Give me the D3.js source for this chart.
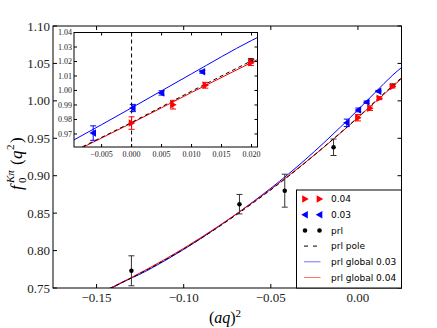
<!DOCTYPE html>
<html>
<head>
<meta charset="utf-8">
<script src="https://cdn.jsdelivr.net/npm/d3@7"></script>
<style>
  body { margin: 0; background: #fff; }
  svg { display: block; }
  .tick-main { font-family: "Liberation Serif", "DejaVu Serif", serif; font-size: 13px; fill: #222; }
  .tick-inset { font-family: "Liberation Serif", "DejaVu Serif", serif; font-size: 8px; fill: #222; }
  .legend text { font-family: "DejaVu Sans", sans-serif; font-size: 9px; fill: #000; }
</style>
</head>
<body>
<svg id="chart" width="437" height="328"></svg>
<script>
// values

// ensemble 0.04 (red, right triangles): x, y, error
const pts04X = [0.000, 0.0069, 0.0123, 0.0199];
const pts04Y = [0.9775, 0.9902, 1.0036, 1.0192];
const pts04E = [0.0043, 0.0030, 0.0020, 0.0020];

// ensemble 0.03 (blue, left triangles)
const pts03X = [-0.0064, 0.0002, 0.0050, 0.0118];
const pts03Y = [0.9706, 0.9879, 0.9983, 1.0129];
const pts03E = [0.0050, 0.0025, 0.0015, 0.0010];

// prl (black dots)
const prlX = [-0.130, -0.068, -0.042, -0.014, 0.0199];
const prlY = [0.773, 0.862, 0.880, 0.938, 1.0205];
const prlE = [0.020, 0.013, 0.022, 0.011, 0.0015];

// fitted curves, sampled by eye
const curveX = [-0.15, -0.14, -0.12, -0.10, -0.08, -0.06, -0.04, -0.02, -0.01, 0.0, 0.01, 0.02, 0.025];
const poleY = [0.741, 0.752, 0.7755, 0.802, 0.8315, 0.864, 0.899, 0.9375, 0.9575, 0.978, 0.9995, 1.0205, 1.031];
const global03Y = [0.737, 0.7515, 0.7745, 0.8015, 0.832, 0.8655, 0.902, 0.943, 0.965, 0.988, 1.0115, 1.0345, 1.0445];
const global04Y = [0.7413, 0.7523, 0.7764, 0.803, 0.8327, 0.8648, 0.8997, 0.9372, 0.957, 0.9775, 0.9986, 1.0193, 1.0296];

// axes ticks
const mainXTicks = [-0.15, -0.10, -0.05, 0.00];
const mainYTicks = [0.75, 0.80, 0.85, 0.90, 0.95, 1.00, 1.05, 1.10];
const insetXTicks = [-0.005, 0.000, 0.005, 0.010, 0.015, 0.020];
const insetYTicks = [0.97, 0.98, 0.99, 1.00, 1.01, 1.02, 1.03, 1.04];

const legendLabels = ["0.04", "0.03", "prl", "prl pole", "prl global 0.03", "prl global 0.04"];

const RED = "#ff0000", BLUE = "#0000ff";

const svg = d3.select("#chart");

const zip = (xs, ys, es) => xs.map((x, i) => ({ x: x, y: ys[i], e: es ? es[i] : 0 }));
const minus = s => s.replace("-", "\u2212");

function drawPanel(opts) {
    const { left, right, top, bottom, xDomain, yDomain, xTicks, yTicks, xFmt, yFmt, cls, tickLen, id, msize } = opts;
    const x = d3.scaleLinear().domain(xDomain).range([left, right]);
    const y = d3.scaleLinear().domain(yDomain).range([bottom, top]);

    const g = svg.append("g");
    g.append("rect")
        .attr("x", left).attr("y", top)
        .attr("width", right - left).attr("height", bottom - top)
        .attr("fill", "#fff");

    svg.append("clipPath").attr("id", id)
        .append("rect")
        .attr("x", left).attr("y", top)
        .attr("width", right - left).attr("height", bottom - top);

    const plot = g.append("g").attr("clip-path", `url(#${id})`);

    if (opts.zeroLine) {
        plot.append("line")
            .attr("x1", x(0)).attr("x2", x(0))
            .attr("y1", top).attr("y2", bottom)
            .attr("stroke", "#000").attr("stroke-width", 1)
            .attr("stroke-dasharray", "4,3");
    }

    const line = d3.line().x(d => x(d.x)).y(d => y(d.y)).curve(d3.curveMonotoneX);
    plot.append("path").datum(zip(curveX, global03Y))
        .attr("d", line).attr("fill", "none").attr("stroke", BLUE).attr("stroke-width", 1);
    plot.append("path").datum(zip(curveX, global04Y))
        .attr("d", line).attr("fill", "none").attr("stroke", RED).attr("stroke-width", 1);
    plot.append("path").datum(zip(curveX, poleY))
        .attr("d", line).attr("fill", "none").attr("stroke", "#000").attr("stroke-width", 1)
        .attr("stroke-dasharray", "4,3");

    const series = [
        { data: zip(prlX, prlY, prlE), color: "#000", shape: "dot" },
        { data: zip(pts03X, pts03Y, pts03E), color: BLUE, shape: "left" },
        { data: zip(pts04X, pts04Y, pts04E), color: RED, shape: "right" }
    ];
    series.forEach(s => {
        const sg = plot.append("g");
        const eColor = s.shape === "dot" ? "#333" : s.color;
        sg.selectAll(".err").data(s.data).enter().append("line")
            .attr("x1", d => x(d.x)).attr("x2", d => x(d.x))
            .attr("y1", d => y(d.y - d.e)).attr("y2", d => y(d.y + d.e))
            .attr("stroke", eColor).attr("stroke-width", 1);
        [-1, 1].forEach(sgn => {
            sg.selectAll(".cap" + sgn).data(s.data).enter().append("line")
                .attr("x1", d => x(d.x) - 3).attr("x2", d => x(d.x) + 3)
                .attr("y1", d => y(d.y + sgn * d.e)).attr("y2", d => y(d.y + sgn * d.e))
                .attr("stroke", eColor).attr("stroke-width", 1);
        });
        sg.selectAll(".mk").data(s.data).enter().append("path")
            .attr("d", markerPath(s.shape, msize))
            .attr("transform", d => `translate(${x(d.x)},${y(d.y)})`)
            .attr("fill", s.color);
    });

    // frame and inward ticks on all four sides
    const axes = g.append("g").attr("stroke", "#000").attr("stroke-width", 1);
    xTicks.forEach(t => {
        axes.append("line").attr("x1", x(t)).attr("x2", x(t)).attr("y1", bottom).attr("y2", bottom - tickLen);
        axes.append("line").attr("x1", x(t)).attr("x2", x(t)).attr("y1", top).attr("y2", top + tickLen);
    });
    yTicks.forEach(t => {
        axes.append("line").attr("x1", left).attr("x2", left + tickLen).attr("y1", y(t)).attr("y2", y(t));
        axes.append("line").attr("x1", right).attr("x2", right - tickLen).attr("y1", y(t)).attr("y2", y(t));
    });
    axes.append("rect")
        .attr("x", left).attr("y", top)
        .attr("width", right - left).attr("height", bottom - top)
        .attr("fill", "none");

    g.selectAll(".xl").data(xTicks).enter().append("text")
        .attr("class", cls)
        .attr("x", t => x(t)).attr("y", bottom + opts.xLabelGap)
        .attr("text-anchor", "middle")
        .text(t => minus(xFmt(t)));
    g.selectAll(".yl").data(yTicks).enter().append("text")
        .attr("class", cls)
        .attr("x", left - opts.yLabelGap).attr("y", t => y(t))
        .attr("text-anchor", "end").attr("dy", "0.35em")
        .text(t => yFmt(t));

    return { x, y, g };
}

function markerPath(shape, size) {
    if (shape === "dot") return d3.symbol(d3.symbolCircle, size * 0.45)();
    const r = Math.sqrt(size) * 0.62;
    // right pointing triangle, mirrored for left
    const dir = shape === "right" ? 1 : -1;
    return `M${dir * r},0L${-dir * r * 0.75},${-r}L${-dir * r * 0.75},${r}Z`;
}

// main panel
drawPanel({
    id: "clipMain",
    left: 53, right: 401.5, top: 26, bottom: 288,
    xDomain: [-0.175, 0.025], yDomain: [0.75, 1.10],
    xTicks: mainXTicks, yTicks: mainYTicks,
    xFmt: d3.format(".2f"), yFmt: d3.format(".2f"),
    cls: "tick-main", tickLen: 4, xLabelGap: 14, yLabelGap: 3, msize: 36
});

// inset panel
drawPanel({
    id: "clipInset",
    left: 74, right: 257.5, top: 32.5, bottom: 147,
    xDomain: [-0.0096, 0.021], yDomain: [0.961, 1.04],
    xTicks: insetXTicks, yTicks: insetYTicks,
    xFmt: d3.format(".3f"), yFmt: d3.format(".2f"),
    cls: "tick-inset", tickLen: 3, xLabelGap: 10, yLabelGap: 2, msize: 36,
    zeroLine: true
});

// axis labels
const serif = '"Liberation Serif", "DejaVu Serif", serif';
const xl = svg.append("text")
    .attr("x", 225).attr("y", 323)
    .attr("text-anchor", "middle")
    .style("font-family", serif).style("font-size", "16px");
xl.append("tspan").text("(");
xl.append("tspan").style("font-style", "italic").text("aq");
xl.append("tspan").text(")");
xl.append("tspan").attr("dy", -6).style("font-size", "11px").text("2");

// y label drawn in rotated frame: f, subscript 0, superscript K pi, then (q^2)
const yl = svg.append("g").attr("transform", "translate(22,154) rotate(-90)")
    .style("font-family", serif);
const ylParts = [
    { t: "f", x: -36, y: 0, size: 17, it: true },
    { t: "0", x: -29, y: 4, size: 11, it: false },
    { t: "K\u03c0", x: -29, y: -8, size: 11, it: true },
    { t: "(", x: -11, y: 0, size: 17, it: false },
    { t: "q", x: -5, y: 0, size: 17, it: true },
    { t: "2", x: 4, y: -8, size: 11, it: false },
    { t: ")", x: 11, y: 0, size: 17, it: false }
];
yl.selectAll("text").data(ylParts).enter().append("text")
    .attr("x", d => d.x).attr("y", d => d.y)
    .style("font-size", d => d.size + "px")
    .style("font-style", d => d.it ? "italic" : "normal")
    .text(d => d.t);

// legend
const lg = svg.append("g").attr("class", "legend");
const lgLeft = 296.5, lgTop = 190, lgRight = 401.5, lgBottom = 288;
lg.append("rect")
    .attr("x", lgLeft).attr("y", lgTop)
    .attr("width", lgRight - lgLeft).attr("height", lgBottom - lgTop)
    .attr("fill", "#fff").attr("stroke", "#000").attr("stroke-width", 1);

const rowY = i => 199 + i * 15.7;
const handleX = [305, 319.5];
const legendKinds = [
    { kind: "right", color: RED },
    { kind: "left", color: BLUE },
    { kind: "dot", color: "#000" },
    { kind: "dash", color: "#000" },
    { kind: "line", color: BLUE },
    { kind: "line", color: RED }
];
legendKinds.forEach((k, i) => {
    const cy = rowY(i);
    if (k.kind === "dash" || k.kind === "line") {
        lg.append("line")
            .attr("x1", handleX[0] - 1).attr("x2", handleX[1] + 1)
            .attr("y1", cy).attr("y2", cy)
            .attr("stroke", k.color).attr("stroke-width", 1)
            .attr("stroke-opacity", k.kind === "line" ? 0.55 : 1)
            .attr("stroke-dasharray", k.kind === "dash" ? "4,5" : null);
    } else {
        handleX.forEach(hx => {
            lg.append("path")
                .attr("d", markerPath(k.kind, 36))
                .attr("transform", `translate(${hx},${cy})`)
                .attr("fill", k.color);
        });
    }
    lg.append("text")
        .attr("x", 331).attr("y", cy).attr("dy", "0.35em")
        .text(legendLabels[i]);
});
</script>
</body>
</html>
